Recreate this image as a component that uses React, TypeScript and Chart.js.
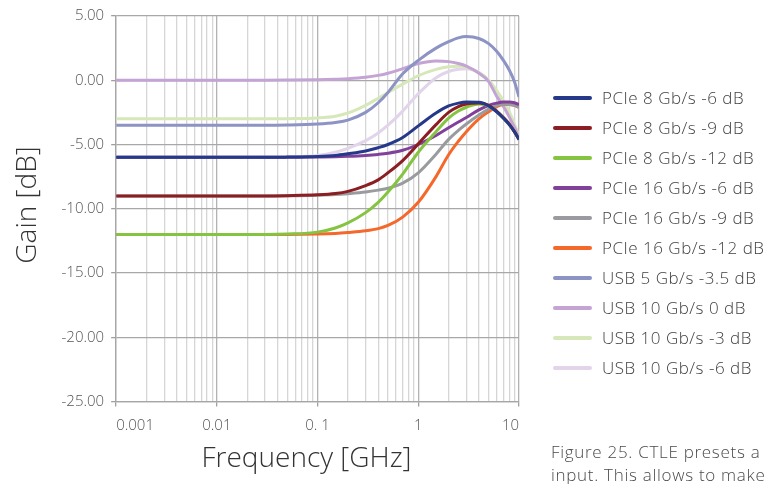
import React, { useEffect, useRef } from "react";
import { Chart, registerables } from "chart.js";

Chart.register(...registerables);

const freqs = [0.001, 0.01, 0.03, 0.05, 0.1, 0.15, 0.2, 0.3, 0.4, 0.5, 0.7, 1, 1.5, 2, 2.5, 3, 4, 5, 6, 7, 8, 9, 10];

const seriesNames = [
  "PCIe 8 Gb/s -6 dB",
  "PCIe 8 Gb/s -9 dB",
  "PCIe 8 Gb/s -12 dB",
  "PCIe 16 Gb/s -6 dB",
  "PCIe 16 Gb/s -9 dB",
  "PCIe 16 Gb/s -12 dB",
  "USB 5 Gb/s -3.5 dB",
  "USB 10 Gb/s 0 dB",
  "USB 10 Gb/s -3 dB",
  "USB 10 Gb/s -6 dB",
];

const pcie8m6 = [-6, -6, -6, -5.98, -5.93, -5.85, -5.72, -5.5, -5.25, -5.0, -4.45, -3.55, -2.55, -2.0, -1.78, -1.7, -1.72, -2.0, -2.45, -2.95, -3.45, -4.0, -4.6];
const pcie8m9 = [-9, -9, -9, -8.98, -8.92, -8.82, -8.65, -8.2, -7.75, -7.2, -6.25, -4.95, -3.45, -2.5, -2.05, -1.85, -1.78, -1.95, -2.4, -2.9, -3.4, -4.0, -4.6];
const pcie8m12 = [-12, -12, -12, -11.97, -11.82, -11.5, -11.1, -10.3, -9.5, -8.7, -7.3, -5.6, -4.0, -2.95, -2.4, -2.1, -1.85, -2.0, -2.45, -2.95, -3.45, -4.0, -4.6];
const pcie16m6 = [-6, -6, -6, -6, -5.97, -5.95, -5.92, -5.85, -5.77, -5.68, -5.45, -5.0, -4.3, -3.7, -3.25, -2.9, -2.3, -1.95, -1.78, -1.7, -1.7, -1.75, -1.9];
const pcie16m9 = [-9, -9, -9, -8.99, -8.95, -8.9, -8.83, -8.7, -8.55, -8.4, -8.0, -7.2, -5.75, -4.6, -3.9, -3.4, -2.7, -2.25, -1.98, -1.87, -1.88, -1.95, -2.1];
const pcie16m12 = [-12, -12, -12, -12, -11.97, -11.92, -11.85, -11.72, -11.55, -11.3, -10.65, -9.5, -7.5, -5.8, -4.75, -4.0, -3.0, -2.45, -2.05, -1.88, -1.88, -1.95, -2.1];
const usb5m35 = [-3.5, -3.5, -3.5, -3.48, -3.4, -3.28, -3.1, -2.5, -1.75, -0.95, 0.5, 1.55, 2.5, 3.0, 3.3, 3.4, 3.25, 2.85, 2.25, 1.55, 0.8, -0.1, -1.3];
const usb10z = [0, 0, 0, 0.01, 0.04, 0.08, 0.12, 0.23, 0.38, 0.55, 0.9, 1.3, 1.5, 1.45, 1.3, 1.1, 0.55, -0.1, -1.25, -2.05, -2.85, -3.65, -4.5];
const usb10m3 = [-3, -3, -3, -2.99, -2.93, -2.8, -2.55, -1.95, -1.4, -0.95, -0.3, 0.35, 0.85, 1.05, 1.08, 1.0, 0.6, 0.0, -0.8, -1.6, -2.45, -3.4, -4.4];
const usb10m6 = [-6, -6, -6, -5.97, -5.85, -5.6, -5.3, -4.7, -4.1, -3.5, -2.4, -1.05, 0.2, 0.68, 0.85, 0.9, 0.6, 0.0, -0.85, -1.7, -2.55, -3.45, -4.4];

const seriesValues = [pcie8m6, pcie8m9, pcie8m12, pcie16m6, pcie16m9, pcie16m12, usb5m35, usb10z, usb10m3, usb10m6];

const seriesColors = [
  "#25388a",
  "#8c1d22",
  "#84c441",
  "#81409a",
  "#999b9e",
  "#f4692b",
  "#8d93c4",
  "#c3a4d4",
  "#d6e8ba",
  "#e2d4ea",
];

const xMajorTicks = [0.001, 0.01, 0.1, 1, 10];
const xTickLabels = ["0.001", "0.01", "0. 1", "1", "10"];
const yTicks = [-25, -20, -15, -10, -5, 0, 5];

const xTitle = "Frequency [GHz]";
const yTitle = "Gain [dB]";
const caption = ["Figure 25. CTLE presets a", "input. This allows to make"];

const FONT = "'Open Sans', Roboto, sans-serif";

const isMajor = (v: number) => xMajorTicks.some((m) => Math.abs(m - v) / m < 1e-6);

const overlayPlugin = {
  id: "overlay",
  afterDraw(chart: any) {
    const ctx = chart.ctx;
    ctx.save();
    // axis titles
    ctx.fillStyle = "#333333";
    ctx.font = `300 28px ${FONT}`;
    ctx.textAlign = "center";
    ctx.textBaseline = "alphabetic";
    ctx.fillText(xTitle, 306.5, 467);
    ctx.save();
    ctx.translate(36, 205);
    ctx.rotate(-Math.PI / 2);
    ctx.fillText(yTitle, 0, 0);
    ctx.restore();

    // legend
    const lx0 = 555;
    const lx1 = 590;
    const tx = 602;
    const y0 = 98;
    const step = 30;
    ctx.font = `300 17px ${FONT}`;
    (ctx as any).letterSpacing = "0.5px";
    ctx.textBaseline = "middle";
    ctx.textAlign = "left";
    chart.data.datasets.forEach((ds: any, i: number) => {
      const y = y0 + i * step;
      ctx.strokeStyle = ds.borderColor;
      ctx.lineWidth = 4;
      ctx.lineCap = "round";
      ctx.beginPath();
      ctx.moveTo(lx0, y);
      ctx.lineTo(lx1, y);
      ctx.stroke();
      ctx.fillStyle = "#3f3f3f";
      ctx.fillText(ds.label, tx, y + 1);
    });

    // caption
    ctx.font = `300 17px ${FONT}`;
    (ctx as any).letterSpacing = "0.7px";
    ctx.textBaseline = "alphabetic";
    ctx.fillStyle = "#4a4a4a";
    ctx.fillText(caption[0], 551, 458);
    ctx.fillText(caption[1], 551, 481);
    (ctx as any).letterSpacing = "0px";
    ctx.restore();
  },
};

export default function App() {
  const canvasRef = useRef<HTMLCanvasElement | null>(null);

  useEffect(() => {
    if (!canvasRef.current) return;
    const chart = new Chart(canvasRef.current, {
      type: "line",
      data: {
        datasets: seriesNames.map((name, i) => ({
          label: name,
          data: freqs.map((f, j) => ({ x: f, y: seriesValues[i][j] })),
          borderColor: seriesColors[i],
          backgroundColor: seriesColors[i],
          borderWidth: 3,
          pointRadius: 0,
          cubicInterpolationMode: "monotone" as const,
          fill: false,
        })),
      },
      options: {
        animation: false,
        responsive: false,
        maintainAspectRatio: false,
        layout: { padding: { left: 54.5, right: 246, top: 13, bottom: 39.5 } },
        plugins: {
          legend: { display: false },
          tooltip: { enabled: false },
        },
        scales: {
          x: {
            type: "logarithmic",
            min: 0.001,
            max: 10,
            afterBuildTicks: (scale: any) => {
              const t: any[] = [];
              for (let d = -3; d <= 0; d++) {
                for (let k = 1; k <= 9; k++) t.push({ value: k * Math.pow(10, d) });
              }
              t.push({ value: 10 });
              scale.ticks = t;
            },
            ticks: {
              autoSkip: false,
              maxRotation: 0,
              align: "inner",
              padding: 10,
              color: "#555555",
              font: { family: FONT, size: 15, weight: 300 as any },
              callback: (v: any) => {
                const idx = xMajorTicks.findIndex((m) => Math.abs(m - v) / m < 1e-6);
                return idx >= 0 ? xTickLabels[idx] : "";
              },
            },
            grid: {
              color: (c: any) => (c.tick && isMajor(c.tick.value) ? "#b3b3b3" : "#d6d6d6"),
              tickColor: (c: any) => (c.tick && isMajor(c.tick.value) ? "#a0a0a0" : "rgba(0,0,0,0)"),
              lineWidth: 1.3,
              tickLength: 5,
            },
            border: { color: "#a6a6a6", width: 1.3 },
            title: { display: false },
          },
          y: {
            min: -25,
            max: 5,
            afterBuildTicks: (scale: any) => {
              scale.ticks = yTicks.map((v) => ({ value: v }));
            },
            ticks: {
              padding: 7,
              color: "#555555",
              font: { family: FONT, size: 15, weight: 300 as any },
              callback: (v: any) => Number(v).toFixed(2),
            },
            grid: {
              color: "#a8a8a8",
              tickColor: "#a0a0a0",
              lineWidth: 1.3,
              tickLength: 5,
            },
            border: { color: "#a6a6a6", width: 1.3 },
            title: { display: false },
          },
        },
      },
      plugins: [overlayPlugin],
    });
    return () => chart.destroy();
  }, []);

  return (
    <div style={{ position: "absolute", left: 0, top: 0, width: 765, height: 484, background: "#ffffff" }}>
      <canvas ref={canvasRef} width={765} height={484} style={{ width: 765, height: 484 }} />
    </div>
  );
}
